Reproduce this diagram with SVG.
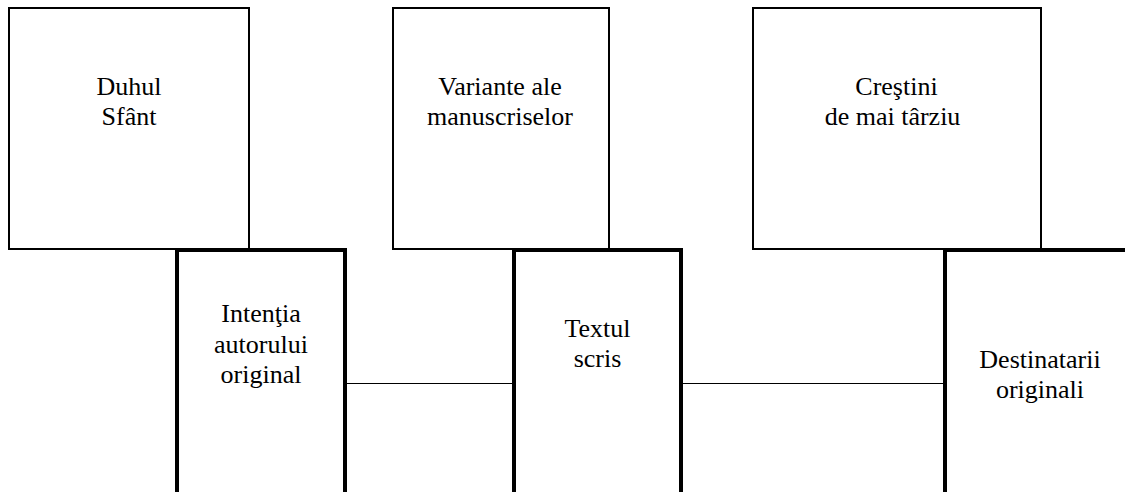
<svg xmlns="http://www.w3.org/2000/svg" width="1125" height="492" viewBox="0 0 1125 492">
  <style>
    .top { fill: #ffffff; stroke: #000000; stroke-width: 2; }
    .bot { fill: none; stroke: #000000; stroke-width: 4; }
    .conn { stroke: #000000; stroke-width: 1; fill: none; }
    text { font-family: "Liberation Serif", "Times New Roman", serif; font-size: 26px; fill: #000000; text-anchor: middle; }
  </style>
  <rect width="1125" height="492" fill="#ffffff"/>
  <g id="duhul-sfant">
    <rect class="top" x="9" y="8" width="240" height="241"/>
    <text x="129" y="95">Duhul</text>
    <text x="129" y="125">Sfânt</text>
  </g>
  <g id="variante">
    <rect class="top" x="393" y="8" width="216" height="241"/>
    <text x="500" y="95">Variante ale</text>
    <text x="500" y="125">manuscriselor</text>
  </g>
  <g id="crestini">
    <rect class="top" x="753" y="8" width="288" height="241"/>
    <text x="896.5" y="95">Creştini</text>
    <text x="892.5" y="125">de mai târziu</text>
  </g>
  <g id="intentia">
    <path class="bot" d="M177,492 V250 H345 V492"/>
    <text x="261" y="322">Intenţia</text>
    <text x="261" y="353">autorului</text>
    <text x="261" y="383">original</text>
  </g>
  <g id="textul">
    <path class="bot" d="M514,492 V250 H681 V492"/>
    <text x="597.5" y="337">Textul</text>
    <text x="597.5" y="367">scris</text>
  </g>
  <g id="destinatarii">
    <path class="bot" d="M945,492 V250 H1125"/>
    <text x="1040" y="368">Destinatarii</text>
    <text x="1040" y="398">originali</text>
  </g>
  <g id="connectors">
    <line class="conn" x1="347" y1="383.5" x2="512" y2="383.5"/>
    <line class="conn" x1="683" y1="383.5" x2="943" y2="383.5"/>
  </g>
</svg>
